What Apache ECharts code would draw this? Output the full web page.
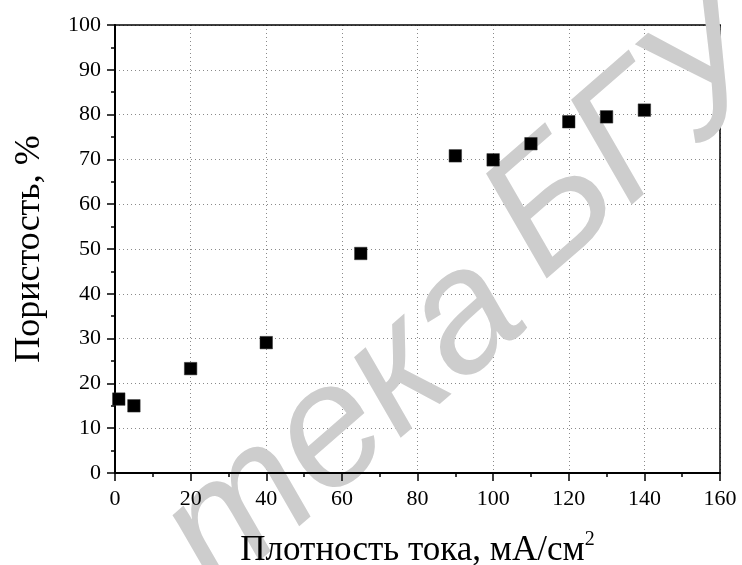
<!DOCTYPE html>
<html>
<head>
<meta charset="utf-8">
<script src="https://cdn.jsdelivr.net/npm/echarts@6/dist/echarts.min.js"></script>
<style>
html,body{margin:0;padding:0;background:#fff;}
#c{width:742px;height:565px;}
</style>
</head>
<body>
<div id="c"></div>
<script>
// Data
var currentDensity = [1, 5, 20, 40, 65, 90, 100, 110, 120, 130, 140];
var porosity = [16.5, 15.0, 23.3, 29.1, 49.0, 70.8, 69.9, 73.5, 78.4, 79.5, 81.0];
var xTicks = [0, 20, 40, 60, 80, 100, 120, 140, 160];
var yTicks = [0, 10, 20, 30, 40, 50, 60, 70, 80, 90, 100];
var xTitle = 'Плотность тока, мА/см';
var xTitleSup = '2';
var yTitle = 'Пористость, %';
var watermarkA = 'тека';
var watermarkB = 'БГУ';

var serif = 'Liberation Serif';
var chart = echarts.init(document.getElementById('c'), null, {renderer: 'canvas'});
var points = currentDensity.map(function (x, i) { return [x, porosity[i]]; });
var ang = 41 * Math.PI / 180;
var wmFont = 'italic 173px "Liberation Sans", Arial, sans-serif';

var option = {
  animation: false,
  backgroundColor: '#fff',
  textStyle: {fontFamily: serif},
  grid: {left: 115, top: 25, right: 22, bottom: 92, outerBoundsMode: 'none', containLabel: false},
  xAxis: [{
    type: 'value', position: 'bottom', min: xTicks[0], max: xTicks[xTicks.length - 1], interval: 20, z: 3,
    name: '{a|' + xTitle + '}{s|' + xTitleSup + '}', nameLocation: 'middle', nameGap: 57,
    nameTextStyle: {rich: {
      a: {fontFamily: serif, fontSize: 35, color: '#000', lineHeight: 42},
      s: {fontFamily: serif, fontSize: 20, color: '#000', verticalAlign: 'top', lineHeight: 42, padding: [0, 0, 18, 0]}
    }},
    axisLine: {show: true, onZero: false, lineStyle: {color: '#000', width: 2}},
    axisTick: {show: true, length: 8, lineStyle: {color: '#000', width: 1.5}},
    minorTick: {show: true, splitNumber: 2, length: 4, lineStyle: {color: '#000', width: 1.5}},
    axisLabel: {fontFamily: serif, fontSize: 22, color: '#000', margin: 15},
    splitLine: {show: false}
  }, {
    type: 'value', position: 'top', min: xTicks[0], max: xTicks[xTicks.length - 1], interval: 20, z: 0,
    axisLine: {show: true, onZero: false, lineStyle: {color: '#000', width: 1.5}},
    axisTick: {show: false}, axisLabel: {show: false},
    splitLine: {show: true, lineStyle: {color: '#8a8a8a', width: 1, type: [1, 3]}}
  }],
  yAxis: [{
    type: 'value', position: 'left', min: yTicks[0], max: yTicks[yTicks.length - 1], interval: 10, z: 3,
    name: yTitle, nameLocation: 'middle', nameGap: 67, nameRotate: 90,
    nameTextStyle: {fontFamily: serif, fontSize: 36, color: '#000'},
    axisLine: {show: true, onZero: false, lineStyle: {color: '#000', width: 2}},
    axisTick: {show: true, length: 8, lineStyle: {color: '#000', width: 1.5}},
    minorTick: {show: true, splitNumber: 2, length: 4, lineStyle: {color: '#000', width: 1.5}},
    axisLabel: {fontFamily: serif, fontSize: 22, color: '#000', margin: 14},
    splitLine: {show: false}
  }, {
    type: 'value', position: 'right', min: yTicks[0], max: yTicks[yTicks.length - 1], interval: 10, z: 0,
    axisLine: {show: true, onZero: false, lineStyle: {color: '#000', width: 1.5}},
    axisTick: {show: false}, axisLabel: {show: false},
    splitLine: {show: true, lineStyle: {color: '#8a8a8a', width: 1, type: [1, 3]}}
  }],
  graphic: [{
    type: 'text', x: 558, y: 352, rotation: ang, z: 1, silent: true,
    style: {text: watermarkA, font: wmFont, fill: '#cdcdcd', textAlign: 'right', textVerticalAlign: 'bottom'}
  }, {
    type: 'text', x: 568, y: 311, rotation: ang, z: 1, silent: true,
    style: {text: watermarkB, font: wmFont, fill: '#cdcdcd', textAlign: 'left', textVerticalAlign: 'bottom'}
  }],
  series: [{
    type: 'scatter', xAxisIndex: 0, yAxisIndex: 0, z: 5,
    symbol: 'rect', symbolSize: 12.5,
    itemStyle: {color: '#000', borderColor: '#333', borderWidth: 0.5, opacity: 1},
    data: points
  }]
};
chart.setOption(option);
</script>
</body>
</html>
